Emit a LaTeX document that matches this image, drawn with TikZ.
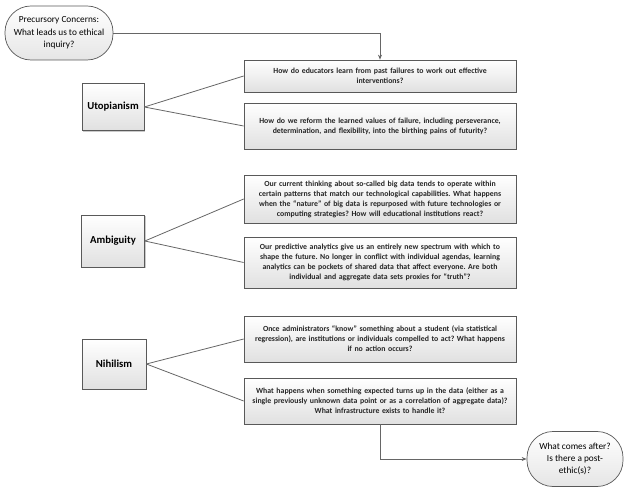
\documentclass[tikz,border=0pt]{standalone}
\usepackage{fontspec}
\setmainfont{Carlito}
\usetikzlibrary{arrows.meta,shadows}
\begin{document}
\frenchspacing
\begin{tikzpicture}[x=1pt,y=-1pt,
  qbox/.style={draw=black!65,line width=0.7pt,top color=white,bottom color=black!12,
    drop shadow={shadow xshift=1.2pt,shadow yshift=-1.2pt,fill=black!35,opacity=0.6},
    inner sep=0pt,align=center,text width=272pt,text=black!85,
    font=\fontsize{7.8}{10}\selectfont\bfseries},
  tbox/.style={draw=black!65,line width=0.7pt,top color=white,bottom color=black!12,
    drop shadow={shadow xshift=1.2pt,shadow yshift=-1.2pt,fill=black!35,opacity=0.6},
    inner sep=0pt,align=center,font=\fontsize{10.7}{12}\selectfont\bfseries},
  term/.style={draw=black!65,line width=0.7pt,top color=white,bottom color=black!10,
    inner sep=0pt,align=center,font=\fontsize{9.3}{12.3}\selectfont},
  conn/.style={draw=black!60,line width=0.8pt},
  arr/.style={conn,-{Stealth[length=5pt,width=4pt]}}]
\useasboundingbox (0,0) rectangle (624,494);
% terminals
\node[term,rounded corners=26pt,minimum width=108pt,minimum height=54pt] (t1) at (59,33)
  {Precursory Concerns:\\What leads us to ethical\\inquiry?};
\node[term,rounded corners=26pt,minimum width=96pt,minimum height=55pt] (t2) at (575,459)
  {What comes after?\\Is there a post-\\ethic(s)?};
% category boxes
\node[tbox,minimum width=62pt,minimum height=47pt] (u) at (113,107) {Utopianism};
\node[tbox,minimum width=63pt,minimum height=52pt] (a) at (113,241) {Ambiguity};
\node[tbox,minimum width=64pt,minimum height=50pt] (n) at (114,364) {Nihilism};
% question boxes
\node[qbox,minimum width=272pt,minimum height=32pt] (u1) at (380,76)
  {How do educators learn from past failures to work out effective\\interventions?};
\node[qbox,minimum width=272pt,minimum height=46pt] (u2) at (380,126)
  {How do we reform the learned values of failure, including perseverance,\\determination, and flexibility, into the birthing pains of futurity?};
\node[qbox,minimum width=271pt,minimum height=48pt] (a1) at (380,199)
  {Our current thinking about so-called big data tends to operate within\\certain patterns that match our technological capabilities. What happens\\when the “nature” of big data is repurposed with future technologies or\\computing strategies? How will educational institutions react?};
\node[qbox,minimum width=271pt,minimum height=51pt] (a2) at (380,262.5)
  {Our predictive analytics give us an entirely new spectrum with which to\\shape the future. No longer in conflict with individual agendas, learning\\analytics can be pockets of shared data that affect everyone. Are both\\individual and aggregate data sets proxies for “truth”?};
\node[qbox,minimum width=271pt,minimum height=46pt] (n1) at (380,339)
  {Once administrators “know” something about a student (via statistical\\regression), are institutions or individuals compelled to act? What happens\\if no action occurs?};
\node[qbox,minimum width=272pt,minimum height=46pt] (n2) at (380,401)
  {What happens when something expected turns up in the data (either as a\\single previously unknown data point or as a correlation of aggregate data)?\\What infrastructure exists to handle it?};
% connectors
\draw[arr] (t1.east) -| (u1.north);
\draw[arr] (n2.south) |- (t2.west);
\draw[conn] (u.east) -- (u1.west);
\draw[conn] (u.east) -- (u2.west);
\draw[conn] (a.east) -- (a1.west);
\draw[conn] (a.east) -- (a2.west);
\draw[conn] (n.east) -- (n1.west);
\draw[conn] (n.east) -- (n2.west);
\end{tikzpicture}
\end{document}
